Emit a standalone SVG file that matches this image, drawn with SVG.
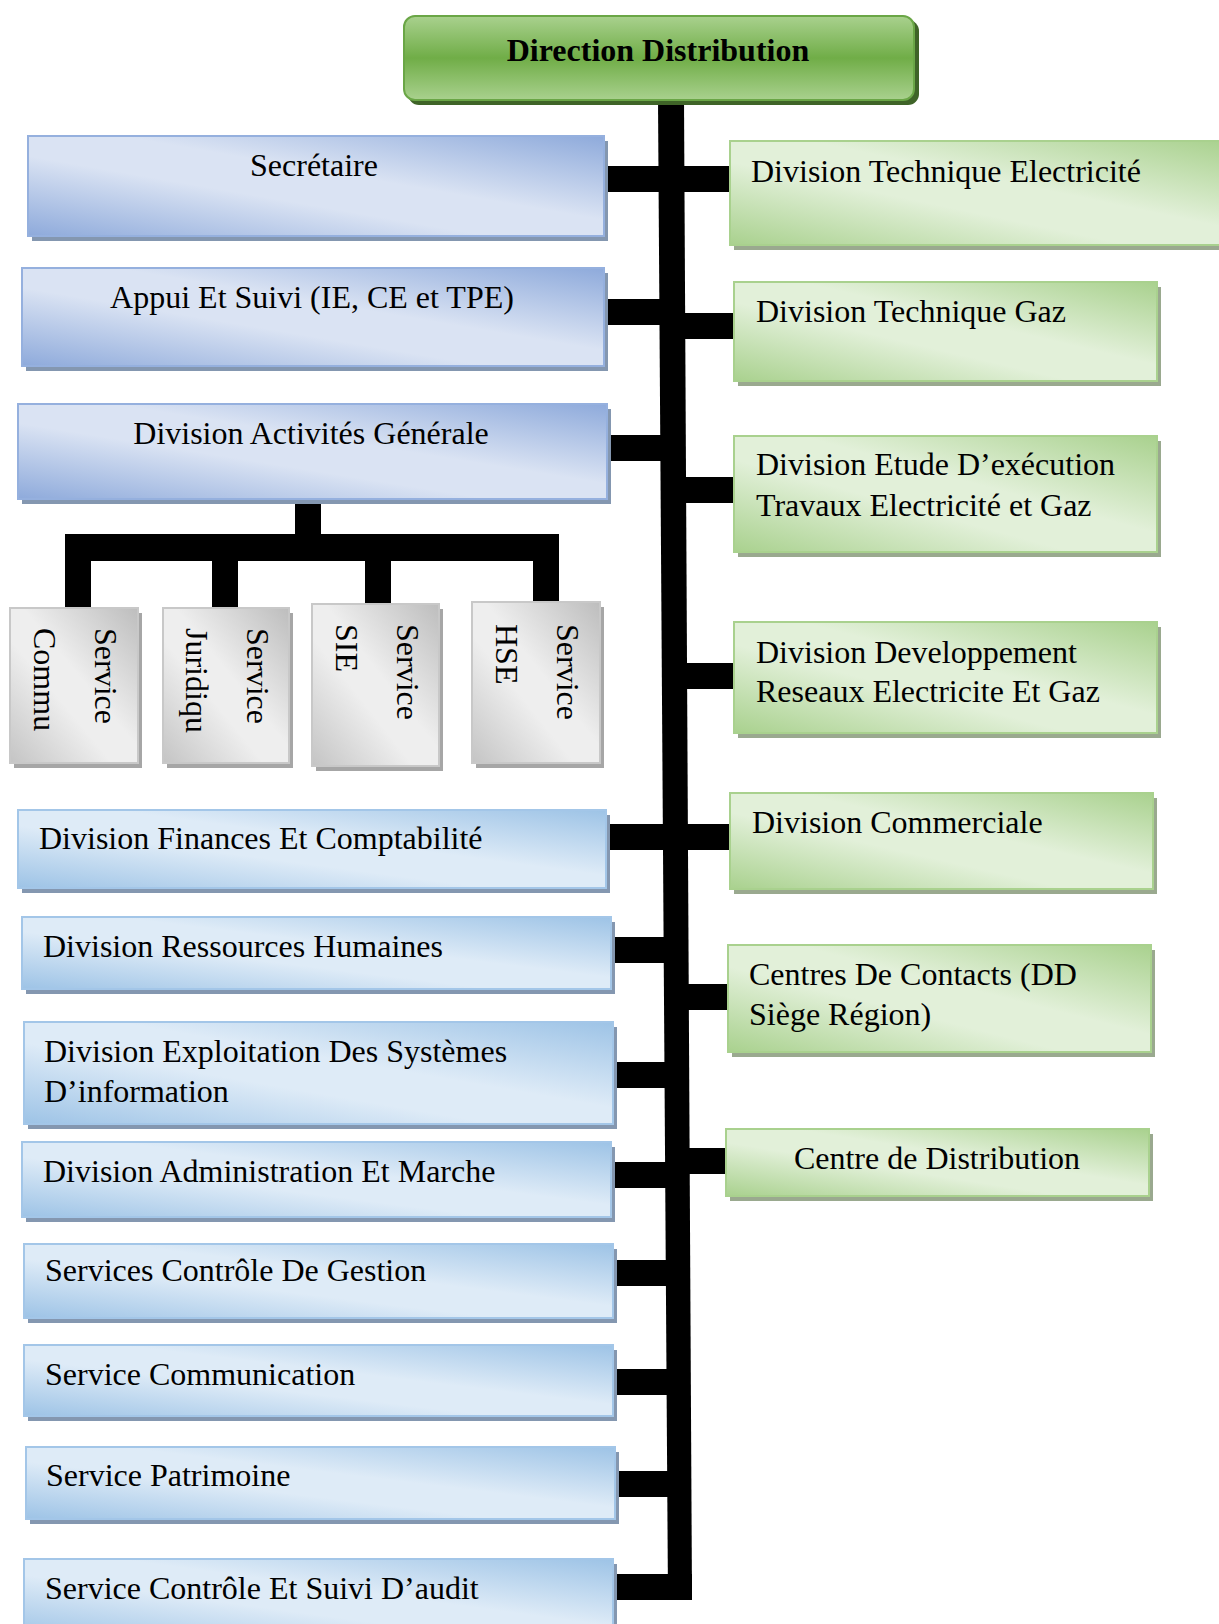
<svg xmlns="http://www.w3.org/2000/svg" width="1219" height="1624" viewBox="0 0 1219 1624">
  <defs>
    <linearGradient id="gTop" x1="0" y1="0" x2="0" y2="1">
      <stop offset="0" stop-color="#a9d18e"/>
      <stop offset="0.5" stop-color="#70ad47"/>
      <stop offset="1" stop-color="#a9d18e"/>
    </linearGradient>
    <linearGradient id="gBlueA" x1="1" y1="0" x2="0" y2="1">
      <stop offset="0" stop-color="#8eaadb"/>
      <stop offset="0.42" stop-color="#dae3f3"/>
      <stop offset="0.6" stop-color="#dae3f3"/>
      <stop offset="1" stop-color="#8eaadb"/>
    </linearGradient>
    <linearGradient id="gBlueB" x1="1" y1="0" x2="0" y2="1">
      <stop offset="0" stop-color="#9dc3e6"/>
      <stop offset="0.42" stop-color="#deebf7"/>
      <stop offset="0.6" stop-color="#deebf7"/>
      <stop offset="1" stop-color="#9dc3e6"/>
    </linearGradient>
    <linearGradient id="gGreen" x1="1" y1="0" x2="0" y2="1">
      <stop offset="0" stop-color="#a9d18e"/>
      <stop offset="0.42" stop-color="#e2f0d9"/>
      <stop offset="0.6" stop-color="#e2f0d9"/>
      <stop offset="1" stop-color="#a9d18e"/>
    </linearGradient>
    <linearGradient id="gGray" x1="1" y1="0" x2="0" y2="1">
      <stop offset="0" stop-color="#bdbdbd"/>
      <stop offset="0.45" stop-color="#eeeeee"/>
      <stop offset="0.6" stop-color="#eeeeee"/>
      <stop offset="1" stop-color="#c4c4c4"/>
    </linearGradient>
  </defs>
  <style>
    text { font-family: "Liberation Serif", "Times New Roman", serif; font-size: 32px; fill: #000; }
    .title { font-weight: bold; }
    .mid { text-anchor: middle; }
    .bar { fill: #000; }
    .shB { fill: #8497b0; }
    .shG { fill: #9aa98f; }
    .shY { fill: #a6a6a6; }
    .shT { fill: #3f6428; }
    .bA { fill: url(#gBlueA); stroke: #95b0de; stroke-width: 2; }
    .bB { fill: url(#gBlueB); stroke: #a3c6e8; stroke-width: 2; }
    .gr { fill: url(#gGreen); stroke: #a9d18e; stroke-width: 2; }
    .gy { fill: url(#gGray); stroke: #c8c8c8; stroke-width: 2; }
    .tp { fill: url(#gTop); stroke: #6aa646; stroke-width: 2; }
  </style>

  <rect width="1219" height="1624" fill="#ffffff"/>

  <!-- connectors -->
  <g id="connectors">
    <polygon class="bar" points="658,100 684,100 692,1600 668,1600"/>
    <!-- left side branches -->
    <rect class="bar" x="604" y="166" width="126" height="26"/>
    <rect class="bar" x="604" y="299" width="66" height="26"/>
    <rect class="bar" x="607" y="435" width="63" height="26"/>
    <rect class="bar" x="606" y="824" width="124" height="26"/>
    <rect class="bar" x="611" y="937" width="69" height="26"/>
    <rect class="bar" x="613" y="1062" width="67" height="26"/>
    <rect class="bar" x="611" y="1162" width="71" height="26"/>
    <rect class="bar" x="613" y="1260" width="71" height="26"/>
    <rect class="bar" x="613" y="1369" width="73" height="26"/>
    <rect class="bar" x="615" y="1471" width="73" height="26"/>
    <rect class="bar" x="613" y="1574" width="79" height="26"/>
    <!-- right side branches -->
    <rect class="bar" x="670" y="313" width="64" height="26"/>
    <rect class="bar" x="670" y="477" width="64" height="26"/>
    <rect class="bar" x="674" y="663" width="60" height="26"/>
    <rect class="bar" x="678" y="984" width="50" height="26"/>
    <rect class="bar" x="680" y="1148" width="46" height="26"/>
    <!-- sub-tree under Division Activités Générale -->
    <rect class="bar" x="295" y="497" width="26" height="50"/>
    <rect class="bar" x="65" y="534" width="494" height="27"/>
    <rect class="bar" x="65" y="534" width="26" height="76"/>
    <rect class="bar" x="212" y="534" width="26" height="76"/>
    <rect class="bar" x="365" y="534" width="26" height="72"/>
    <rect class="bar" x="533" y="534" width="26" height="70"/>
  </g>

  <!-- head node -->
  <g id="direction-distribution">
    <rect class="shT" x="408" y="20" width="511" height="85" rx="11"/>
    <rect class="tp" x="404" y="16" width="510" height="84" rx="11"/>
    <text class="title mid" x="658" y="61">Direction Distribution</text>
  </g>

  <!-- left column -->
  <g id="secretaire">
    <rect class="shB" x="32" y="141" width="576" height="100"/>
    <rect class="bA" x="28" y="136" width="576" height="100"/>
    <text class="mid" x="314" y="176">Secrétaire</text>
  </g>
  <g id="appui-suivi">
    <rect class="shB" x="26" y="273" width="582" height="98"/>
    <rect class="bA" x="22" y="268" width="582" height="98"/>
    <text class="mid" x="312" y="308">Appui Et Suivi (IE, CE et TPE)</text>
  </g>
  <g id="activites-generale">
    <rect class="shB" x="22" y="409" width="589" height="95"/>
    <rect class="bA" x="18" y="404" width="589" height="95"/>
    <text class="mid" x="311" y="444">Division Activités Générale</text>
  </g>

  <g id="service-commu">
    <rect class="shY" x="14" y="613" width="128" height="155"/>
    <rect class="gy" x="10" y="608" width="128" height="155"/>
    <text transform="translate(95,628) rotate(90)">Service</text>
    <text transform="translate(34,628) rotate(90)">Commu</text>
  </g>
  <g id="service-juridiqu">
    <rect class="shY" x="167" y="613" width="126" height="155"/>
    <rect class="gy" x="163" y="608" width="126" height="155"/>
    <text transform="translate(247,628) rotate(90)">Service</text>
    <text transform="translate(186,628) rotate(90)">Juridiqu</text>
  </g>
  <g id="service-sie">
    <rect class="shY" x="316" y="609" width="127" height="162"/>
    <rect class="gy" x="312" y="604" width="127" height="162"/>
    <text transform="translate(397,624) rotate(90)">Service</text>
    <text transform="translate(336,624) rotate(90)">SIE</text>
  </g>
  <g id="service-hse">
    <rect class="shY" x="476" y="607" width="128" height="161"/>
    <rect class="gy" x="472" y="602" width="128" height="161"/>
    <text transform="translate(557,624) rotate(90)">Service</text>
    <text transform="translate(496,624) rotate(90)">HSE</text>
  </g>

  <g id="finances-comptabilite">
    <rect class="shB" x="22" y="815" width="588" height="78"/>
    <rect class="bB" x="18" y="810" width="588" height="78"/>
    <text x="39" y="849">Division Finances Et Comptabilité</text>
  </g>
  <g id="ressources-humaines">
    <rect class="shB" x="26" y="922" width="589" height="72"/>
    <rect class="bB" x="22" y="917" width="589" height="72"/>
    <text x="43" y="957">Division Ressources Humaines</text>
  </g>
  <g id="exploitation-si">
    <rect class="shB" x="28" y="1027" width="589" height="102"/>
    <rect class="bB" x="24" y="1022" width="589" height="102"/>
    <text x="44" y="1062">Division Exploitation Des Systèmes</text>
    <text x="44" y="1102">D’information</text>
  </g>
  <g id="administration-marche">
    <rect class="shB" x="26" y="1147" width="589" height="75"/>
    <rect class="bB" x="22" y="1142" width="589" height="75"/>
    <text x="43" y="1182">Division Administration Et Marche</text>
  </g>
  <g id="controle-gestion">
    <rect class="shB" x="28" y="1249" width="589" height="74"/>
    <rect class="bB" x="24" y="1244" width="589" height="74"/>
    <text x="45" y="1281">Services Contrôle De Gestion</text>
  </g>
  <g id="service-communication">
    <rect class="shB" x="28" y="1350" width="589" height="71"/>
    <rect class="bB" x="24" y="1345" width="589" height="71"/>
    <text x="45" y="1385">Service Communication</text>
  </g>
  <g id="service-patrimoine">
    <rect class="shB" x="30" y="1452" width="589" height="72"/>
    <rect class="bB" x="26" y="1447" width="589" height="72"/>
    <text x="46" y="1486">Service Patrimoine</text>
  </g>
  <g id="controle-suivi-audit">
    <rect class="shB" x="28" y="1564" width="589" height="80"/>
    <rect class="bB" x="24" y="1559" width="589" height="80"/>
    <text x="45" y="1599">Service Contrôle Et Suivi D’audit</text>
  </g>

  <!-- right column -->
  <g id="technique-electricite">
    <rect class="shG" x="734" y="146" width="500" height="104"/>
    <rect class="gr" x="730" y="141" width="500" height="104"/>
    <text x="751" y="182">Division Technique Electricité</text>
  </g>
  <g id="technique-gaz">
    <rect class="shG" x="738" y="287" width="423" height="99"/>
    <rect class="gr" x="734" y="282" width="423" height="99"/>
    <text x="756" y="322">Division Technique Gaz</text>
  </g>
  <g id="etude-execution">
    <rect class="shG" x="738" y="441" width="423" height="116"/>
    <rect class="gr" x="734" y="436" width="423" height="116"/>
    <text x="756" y="475">Division Etude D’exécution</text>
    <text x="756" y="516">Travaux Electricité et Gaz</text>
  </g>
  <g id="developpement-reseaux">
    <rect class="shG" x="738" y="627" width="423" height="111"/>
    <rect class="gr" x="734" y="622" width="423" height="111"/>
    <text x="756" y="663">Division Developpement</text>
    <text x="756" y="702">Reseaux Electricite Et Gaz</text>
  </g>
  <g id="commerciale">
    <rect class="shG" x="734" y="798" width="423" height="96"/>
    <rect class="gr" x="730" y="793" width="423" height="96"/>
    <text x="752" y="833">Division Commerciale</text>
  </g>
  <g id="centres-contacts">
    <rect class="shG" x="732" y="950" width="423" height="107"/>
    <rect class="gr" x="728" y="945" width="423" height="107"/>
    <text x="749" y="985">Centres De Contacts (DD</text>
    <text x="749" y="1025">Siège Région)</text>
  </g>
  <g id="centre-distribution">
    <rect class="shG" x="730" y="1134" width="423" height="67"/>
    <rect class="gr" x="726" y="1129" width="423" height="67"/>
    <text class="mid" x="937" y="1169">Centre de Distribution</text>
  </g>
</svg>
